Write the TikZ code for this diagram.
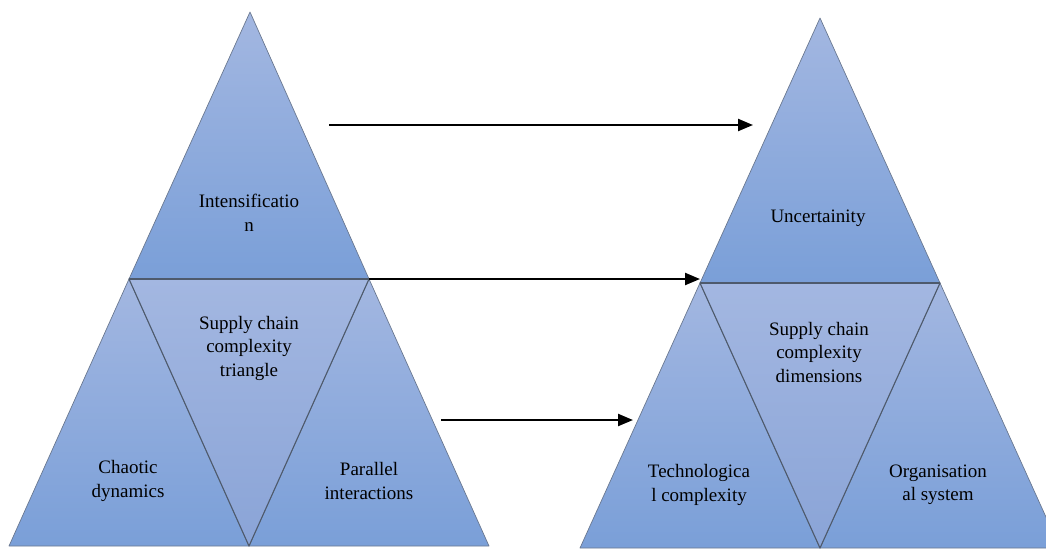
\documentclass[tikz,border=0pt]{standalone}
\usepackage{fontspec}
\setmainfont{Liberation Serif}
\usetikzlibrary{arrows.meta}
\definecolor{triLight}{HTML}{A3B7E1}
\definecolor{triDark}{HTML}{7A9FD8}
\definecolor{midDark}{HTML}{8AA4D7}
\definecolor{edgeGray}{HTML}{6A7890}
\definecolor{sepGray}{HTML}{4E5A6C}
\begin{document}
\begin{tikzpicture}[x=1pt,y=-1pt,
  tri/.style={top color=triLight,bottom color=triDark,draw=edgeGray,line width=0.7pt,line join=round},
  inv/.style={top color=triLight,bottom color=midDark,draw=sepGray,line width=1.1pt,line join=round},
  sep/.style={draw=sepGray,line width=1.6pt},
  txt/.style={font=\fontsize{19}{23.5}\selectfont,align=center,text=black,inner sep=0pt},
  flow/.style={draw=black,line width=2.3pt,-{Triangle[length=15pt,width=12pt]}}]
\useasboundingbox (0,0) rectangle (1046,549);
% left triangle corners
\coordinate (LA) at (250,12);
\coordinate (LML) at (129,279);
\coordinate (LMR) at (369,279);
\coordinate (LBL) at (9,546);
\coordinate (LBM) at (249,546);
\coordinate (LBR) at (489,546);
% right triangle corners
\coordinate (RA) at (820,18);
\coordinate (RML) at (700,283);
\coordinate (RMR) at (940,283);
\coordinate (RBL) at (580,548);
\coordinate (RBM) at (820,548);
\coordinate (RBR) at (1060,548);
% left pyramid
\path[tri] (LA) -- (LMR) -- (LML) -- cycle;
\path[tri] (LML) -- (LBM) -- (LBL) -- cycle;
\path[tri] (LMR) -- (LBR) -- (LBM) -- cycle;
\path[inv] (LML) -- (LMR) -- (LBM) -- cycle;
\draw[sep] (LML) -- (LMR);
% right pyramid
\path[tri] (RA) -- (RMR) -- (RML) -- cycle;
\path[tri] (RML) -- (RBM) -- (RBL) -- cycle;
\path[tri] (RMR) -- (RBR) -- (RBM) -- cycle;
\path[inv] (RML) -- (RMR) -- (RBM) -- cycle;
\draw[sep] (RML) -- (RMR);
% labels
\node[txt] (intens) at (249,213) {Intensificatio\\n};
\node[txt] (sct) at (249,348) {Supply chain\\complexity\\triangle};
\node[txt] (chaotic) at (128,481) {Chaotic\\dynamics};
\node[txt] (parallel) at (369,481) {Parallel\\interactions};
\node[txt] (unc) at (818,218) {Uncertainity};
\node[txt] (scd) at (819,352) {Supply chain\\complexity\\dimensions};
\node[txt] (tech) at (699,485) {Technologica\\l complexity};
\node[txt] (org) at (938,485) {Organisation\\al system};
% arrows
\coordinate (a1s) at (329,125);
\coordinate (a1e) at (753,125);
\coordinate (a3s) at (441,420);
\coordinate (a3e) at (633,420);
\draw[flow] (a1s) -- (a1e);
\draw[flow] (LMR) -- (LMR -| RML);
\draw[flow] (a3s) -- (a3e);
\end{tikzpicture}
\end{document}
